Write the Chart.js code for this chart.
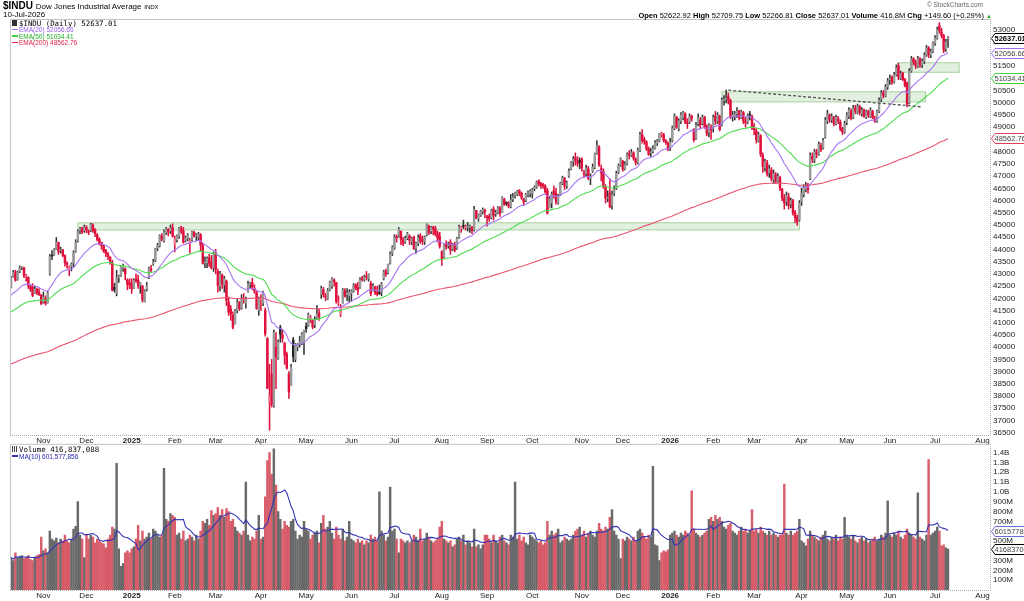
<!DOCTYPE html>
<html><head><meta charset="utf-8">
<script src="https://cdn.jsdelivr.net/npm/chart.js@4.4.1/dist/chart.umd.min.js"></script>
<style>
html,body{margin:0;padding:0;background:#fff;width:1024px;height:601px;overflow:hidden;font-family:"Liberation Sans",Arial,sans-serif;}
canvas{position:absolute;left:0;}
#main{top:0;}
#vol{top:436px;}
.t{position:absolute;white-space:nowrap;color:#000;line-height:1;}
.mono{font-family:"DejaVu Sans Mono",monospace;}
.dash{display:inline-block;width:6px;height:1.5px;vertical-align:middle;margin-right:1px;position:relative;top:-1px;}
</style></head><body>
<canvas id="main" width="1024" height="446"></canvas>
<canvas id="vol" width="1024" height="165"></canvas>

<div class="t" style="left:3px;top:1px;font-size:10px"><b>$INDU</b> <span style="font-size:8px">Dow Jones Industrial Average</span> <span style="font-size:6px">INDX</span></div>
<div class="t" style="left:3px;top:11px;font-size:8px">10-Jul-2026</div>
<div class="t" style="right:41px;top:2px;font-size:6.5px;color:#666">© StockCharts.com</div>
<div class="t" style="right:32px;top:11.5px;font-size:7.5px"><b>Open</b> 52622.92 <b>High</b> 52709.75 <b>Low</b> 52266.81 <b>Close</b> 52637.01 <b>Volume</b> 416.8M <b>Chg</b> +149.60 (+0.29%) <span style="color:#2a2;font-size:6px">▲</span></div>

<div class="t mono" style="left:12px;top:20px;font-size:7.4px"><span style="display:inline-block;width:5px;height:6px;background:#333;margin-right:2px"></span>$INDU (Daily) 52637.01</div>
<div class="t" style="left:12px;top:27px;font-size:6.5px;color:#9a5cf0"><span class="dash" style="background:#a070f0"></span>EMA(20) 52056.66</div>
<div class="t" style="left:12px;top:33.5px;font-size:6.5px;color:#20b020"><span class="dash" style="background:#40d040"></span>EMA(50) 51034.41</div>
<div class="t" style="left:12px;top:40px;font-size:6.5px;color:#e0204a"><span class="dash" style="background:#e0204a"></span>EMA(200) 48562.76</div>

<div class="t mono" style="left:12px;top:446px;font-size:7.4px"><span style="display:inline-block;width:5px;height:6px;background:linear-gradient(90deg,#444 0 1px,transparent 1px 2px,#444 2px 3px,transparent 3px 4px,#444 4px 5px);margin-right:2px"></span>Volume 416,837,088</div>
<div class="t" style="left:12px;top:453.5px;font-size:6.5px;color:#2424b0"><span class="dash" style="background:#3030b0"></span>MA(10) 601,577,856</div>
<div id="err" class="t" style="left:400px;top:300px;color:red;font-size:14px"></div>

<script>
// ---------- calendar ----------
const FIRST_DAY = [2024, 9, 11];
const SLOTS = 455;
const HOLIDAYS = ['2024-11-28','2024-12-25','2025-01-01','2025-01-09','2025-01-20','2025-02-17','2025-04-18','2025-05-26','2025-06-19','2025-07-04','2025-09-01','2025-11-27','2025-12-25','2026-01-01','2026-01-19','2026-02-16','2026-04-03','2026-05-25','2026-06-19','2026-07-03'];
const MONTHS = ['Jan','Feb','Mar','Apr','May','Jun','Jul','Aug','Sep','Oct','Nov','Dec'];
const PREV_CLOSE = 42454;

// ---------- axis ticks ----------
const PRICE_TICK_MIN = 36500, PRICE_TICK_MAX = 53000, PRICE_TICK_STEP = 500;
const VOL_TICKS_M = [100,200,300,400,500,600,700,800,900,1000,1100,1200,1300,1400];

// ---------- price data (daily) ----------
const open = [
42450,42890,43080,42770,43110,43250,43260,42890,42860,42500,42450,42200,42370,42250,42120,
41850,42000,41820,43000,43750,43790,44020,44290,43950,43980,43750,43400,43200,43300,43450,43900,44350,44780,44870,44770,
44900,44750,44780,45000,44800,44600,44420,44280,44150,43950,43800,43690,43450,42450,42200,42840,42930,43240,43200,42750,42650,
42600,42420,42800,42750,42530,42500,41850,42380,42850,43200,43400,43550,44050,44150,44550,44350,44700,44830,44750,44900,
44200,44400,44550,44880,44750,44350,44450,44250,44400,44700,44550,44500,44600,44150,43450,43450,43650,43500,43250,
43850,43100,42500,42950,42550,42700,41850,41550,41300,40950,41500,41850,41600,41950,41800,42250,42580,42650,42400,42250,41500,
41950,41800,41500,40350,37750,38900,37600,40000,39550,40800,40500,40150,39700,38900,38450,40300,39500,40000,40150,40150,40200,
40850,40900,41150,41100,40900,41200,41400,42150,42350,42100,42000,42350,42500,42750,42650,41800,41350,41800,42300,42150,42100,
42200,42300,42550,42450,42450,42800,42750,42900,42800,42600,42300,42450,42250,42250,42250,42800,43100,43050,43450,43850,
44050,44500,44550,44750,44400,44300,44450,44550,44300,44500,44050,44250,44550,44400,44320,44600,44950,44750,44900,44850,44650,44550,
43900,43700,44200,44150,44300,44000,44200,44050,44500,44850,44950,44900,44900,44900,44900,44800,45600,45250,45400,45550,45600,
45300,45350,45300,45650,45450,45500,45700,45500,46050,45900,45900,45750,46050,46200,46250,46400,46300,46050,46000,46250,46300,
46300,46500,46550,46800,46700,46650,46600,46400,45700,45900,46400,46300,45900,46250,46700,46900,46600,47000,47300,47600,47750,47600,47650,
47700,47100,47100,47300,46900,47200,47350,47950,48200,47300,47200,46550,46100,46300,45800,46300,46500,47150,47450,
47600,47300,47500,47900,47850,47950,47700,47550,48050,48700,48500,48400,48100,47950,48000,48150,48350,48450,48700,48700,48450,48350,
48150,48450,48950,49400,48950,49250,49400,49550,49200,49200,49450,48900,48550,49150,49300,49150,49400,49050,48800,49000,
48950,49450,49250,49450,49100,50100,50150,50250,50100,49450,49450,49550,49650,49400,49600,49250,49200,49500,49450,
49000,48850,48450,48650,47850,47350,47550,47150,47250,46850,47050,46800,46950,46450,46100,45950,46150,45850,46000,45500,45300,45200,
45950,46250,46450,46650,46900,47800,47650,48000,47900,48250,48150,48600,49250,49500,49300,49400,49150,49350,49200,48950,48800,
49200,49450,49650,49400,49800,49600,49850,49550,49700,49400,49650,49450,49650,49350,49250,49650,50150,50400,50300,50650,
50950,51050,50850,51150,51500,51000,51200,50950,50800,50000,51300,51800,51650,51500,51800,51550,51700,51950,52250,51950,52100,
52450,52650,53150,52900,52750,52200,52622.92];
const high = [
42900,43140,43150,43120,43325,43300,43270,42980,42880,42520,42600,42500,42420,42400,42160,
42260,42100,42300,43800,43950,44030,44490,44300,44100,44000,43780,43500,43320,43450,43950,44400,44800,44900,44900,45000,
44970,44800,45070,45050,44850,44650,44480,44300,44170,44000,43880,43700,43560,42620,43150,42950,43300,43400,43250,42800,42800,
42800,42800,43000,42950,42650,42530,42350,42650,43280,43350,43600,44050,44250,44600,44650,44800,44900,44850,45000,45050,
44550,44600,44900,44950,44900,44550,44650,44450,44750,44750,44650,44700,44650,44250,43700,43700,43800,43750,43900,
44000,43200,43100,43000,42900,42750,42050,41700,41450,41550,41950,41870,42150,42200,42050,42700,42650,42820,42550,42300,42050,
42150,42300,41600,40400,39300,39500,40700,40600,40300,40900,40700,40200,39800,39000,39300,40400,40150,40150,40450,40600,40700,
41000,41400,41300,41150,41250,41700,41550,42500,42450,42200,42400,42700,42850,42800,42650,42100,41750,42400,42400,42400,42350,
42350,42600,42600,42650,42850,42900,42950,43100,43000,42700,42600,42500,42500,42550,42650,43150,43200,43400,43900,44150,
44600,44600,44900,44750,44500,44550,44700,44600,44500,44550,44300,44600,44650,44550,44550,45050,45000,44950,44950,44950,44750,44700,
43950,44200,44350,44300,44400,44250,44300,44500,45000,44950,45200,45000,45100,45000,44950,45760,45600,45450,45600,45700,45650,
45400,45450,45650,45750,45600,45750,45750,46150,46100,45950,45950,46250,46300,46350,46420,46450,46350,46100,46300,46400,46450,
46500,46600,46800,46850,46750,46700,46650,46500,46150,46350,46600,46500,46250,46750,47000,46950,46800,47300,47600,47800,47950,47800,47750,
47750,47250,47450,47400,47100,47500,47950,48450,48250,47450,47300,46650,46400,46900,46400,46600,47200,47500,47750,
47650,47600,47950,48050,48100,48000,47750,48150,48800,48900,48600,48450,48200,48150,48250,48450,48500,48750,48800,48750,48500,48400,
48550,49050,49550,49450,49350,49600,49650,49600,49350,49550,49500,48950,49200,49550,49400,49500,49450,49100,49150,49100,
49500,49650,49600,49500,50200,50300,50520,50400,50150,49650,49650,49800,49700,49700,49650,49400,49550,49650,49500,
49150,48950,48800,48700,47950,47700,47650,47450,47350,47250,47150,47100,47000,46500,46250,46350,46300,46100,46050,45600,45400,46000,
46500,46650,46750,46700,47950,47950,48100,48100,48400,48350,48550,49400,49700,49550,49550,49450,49500,49450,49300,49000,49250,
49600,49800,49750,49900,49900,49950,49900,49800,49750,49700,49700,49800,49700,49450,49700,50200,50500,50500,50750,51000,
51150,51100,51250,51550,51620,51300,51250,51000,50850,51400,51900,51850,51750,51900,51850,51800,52050,52350,52300,52200,52500,
52750,53100,53280,53050,52800,52600,52709.75];
const low = [
42420,42860,42700,42740,43050,43170,42840,42700,42400,42280,42060,42190,42150,42120,41750,
41800,41720,41800,42950,43580,43750,44000,43800,43850,43700,43320,43220,42930,43120,43280,43880,44300,44650,44640,44700,
44680,44600,44730,44700,44520,44350,44180,44000,43880,43700,43580,43400,42300,42250,42100,42650,42900,43100,42750,42350,42400,
42200,42400,42650,42400,42200,41850,41850,42300,42800,43050,43350,43500,43950,44100,44350,44300,44600,44550,44650,44500,
43900,44300,44450,44650,44250,44300,44350,43850,44350,44500,44350,44400,43950,43400,43250,43250,43300,43200,43100,
43000,42250,42300,42400,42250,41700,41300,41100,40750,40950,41400,41500,41550,41800,41600,42250,42400,42350,42200,41550,41300,
41500,41700,40450,38300,36600,37550,37550,38300,39500,40200,40200,39300,39100,37900,38450,39400,39400,39850,40000,40100,39700,
40600,40850,41000,40750,40800,41150,41100,42000,42050,41900,41950,42300,42400,42500,41800,41700,41250,41800,42050,41900,41850,
41900,42250,42350,42150,42400,42700,42700,42750,42700,42100,42300,42150,42100,42150,42100,42750,42900,43000,43400,43750,
44000,44300,44500,44200,44150,44250,44400,44200,44200,44000,43850,44150,44250,44200,44200,44550,44600,44650,44600,44550,44300,44050,
43350,43650,44000,44050,43800,43950,43900,44000,44450,44700,44850,44800,44750,44700,44650,44750,45250,45150,45350,45450,45300,
44950,45150,45250,45200,45350,45450,45350,45500,45800,45800,45700,45700,45950,46100,46200,46200,46050,45800,45950,46150,46150,
46100,46400,46500,46600,46500,46500,46300,45450,45700,45700,46100,45850,45850,46200,46650,46450,46500,46950,47250,47400,47450,47400,47300,
47200,46950,47000,46850,46650,47150,47300,47900,47400,46800,46500,45900,45950,45700,45650,46200,46450,47100,47400,
47200,47250,47450,47700,47800,47650,47450,47500,48000,48350,48300,48050,47850,47800,47950,48100,48250,48400,48600,48400,48300,48050,
48050,48400,48900,48950,48850,49150,49300,49150,48950,49150,49250,48400,48500,49050,48950,49100,48950,48650,48600,48500,
48800,49100,49150,48850,49050,49900,50000,49950,49350,49250,49300,49400,49300,49350,49150,49000,49150,49300,48900,
48700,48350,48400,47800,47150,47200,47000,46950,46800,46700,46700,46750,46400,46000,45650,45800,45650,45700,45400,45100,44990,45150,
45800,46150,46350,46300,46850,47550,47550,47750,47850,48000,48100,48550,49150,49200,49200,49050,49100,49150,48850,48700,48750,
49100,49350,49300,49350,49550,49550,49500,49450,49400,49350,49400,49400,49350,49200,49200,49600,50050,50200,50250,50550,
50750,50750,50800,51100,50950,50950,50900,50650,49830,49950,51250,51550,51400,51450,51450,51450,51600,51900,51850,51850,52050,
52350,52600,52850,52650,52050,52100,52266.81];
const close = [
42864,43065,42740,43077,43239,43275,42931,42924,42514,42374,42114,42387,42233,42141,41763,
42052,41794,42222,43729,43729,43989,44293,43911,43958,43751,43445,43390,43269,43408,43870,44297,44737,44860,44722,44911,
44782,44705,45014,44766,44643,44402,44248,44149,43914,43828,43717,43450,42327,42342,42840,42906,43297,43325,42992,42573,42544,
42392,42732,42706,42528,42635,41938,42297,42518,43221,43153,43488,44025,44156,44565,44424,44713,44850,44713,44882,44544,
44421,44556,44873,44747,44303,44470,44593,44368,44711,44546,44556,44627,44177,43428,43461,43621,43433,43239,43841,
43191,42520,43006,42579,42801,41912,41433,41350,40813,41488,41841,41581,41964,41953,41985,42583,42587,42455,42300,41583,42002,
41989,42225,40545,38315,37966,37646,40608,39594,40212,40524,40368,39669,39142,38170,39187,39606,40093,40114,40227,40527,40669,
40753,41317,41218,40829,41113,41368,41249,42410,42140,42051,42322,42654,42792,42677,41860,41859,41603,42343,42098,42215,42270,
42305,42519,42427,42319,42763,42762,42867,42866,42968,42197,42515,42215,42172,42207,42582,43089,42982,43386,43819,44095,
44495,44484,44829,44406,44241,44458,44651,44372,44460,44023,44254,44484,44342,44323,44502,45010,44694,44902,44837,44632,44461,44131,
43589,44173,44112,44193,43968,44176,43975,44459,44922,44911,44946,44912,44922,44938,44786,45632,45282,45418,45565,45637,45545,
45296,45271,45621,45401,45515,45711,45490,46108,45834,45883,45758,46018,46142,46315,46382,46292,46121,45947,46247,46316,46398,
46441,46519,46758,46695,46603,46602,46358,45480,46068,46270,46253,45952,46191,46707,46925,46590,46735,47207,47545,47706,47632,47522,47563,
47337,47085,47311,46912,46987,47368,47927,48254,47457,47147,46590,46091,46138,45752,46245,46448,47112,47427,47716,
47289,47474,47882,47851,47955,47739,47560,48057,48704,48458,48416,48114,47886,47951,48134,48362,48442,48731,48710,48461,48367,48063,
48382,48977,49462,48996,49266,49504,49590,49191,49149,49442,49359,48488,49077,49384,49098,49412,49003,48750,49071,48892,
49407,49241,49501,48909,50116,50135,50188,50121,49452,49500,49533,49662,49395,49626,49250,49174,49482,49499,48978,
48900,48500,48700,47900,47400,47600,47100,47300,46900,47100,46800,47000,46500,46100,45900,46200,45800,46000,45500,45300,45150,45900,
46300,46500,46600,46450,47850,47700,48000,47900,48300,48100,48450,49300,49550,49300,49450,49150,49400,49250,48950,48800,49150,
49500,49700,49400,49800,49650,49850,49600,49700,49450,49650,49500,49700,49400,49250,49650,50100,50400,50300,50650,50900,
51000,50850,51150,51450,51050,51200,50950,50700,49950,51300,51800,51650,51500,51800,51550,51700,51950,52250,51950,52100,52450,
52650,53000,52950,52750,52150,52487.41,52637.01];
// volume, millions of shares
const volume = [
330,300,380,330,340,350,320,330,350,310,300,330,350,360,540,
400,420,380,600,520,500,530,480,520,500,560,500,480,520,620,650,900,560,520,330,
560,520,560,540,480,520,500,480,470,430,520,560,640,620,1290,420,240,270,380,400,380,
420,440,520,660,500,600,520,540,580,520,620,600,560,540,560,1240,720,700,780,760,
740,560,580,520,600,500,520,560,540,500,560,520,600,700,680,720,660,810,760,
780,840,760,820,740,830,800,700,720,640,600,580,560,600,1100,560,500,540,520,600,760,
520,540,950,1320,1400,1180,1440,1070,800,720,620,700,660,640,700,720,600,520,560,540,700,
620,600,520,560,580,600,480,680,760,620,640,700,580,520,640,560,520,620,500,540,700,
520,500,480,520,480,500,460,500,480,560,520,540,500,1000,600,560,500,540,1050,600,
620,520,380,520,500,480,500,480,500,560,540,500,620,500,520,580,540,500,480,500,520,640,
700,520,500,480,500,440,460,520,540,500,560,460,500,480,440,620,440,460,420,460,560,
560,520,480,560,500,480,540,560,500,480,460,560,540,1100,520,560,500,540,480,460,560,
540,520,500,480,500,460,480,700,560,600,560,580,620,480,500,540,520,500,520,560,600,620,640,
560,600,540,580,600,560,540,600,680,620,600,640,620,740,820,600,560,520,320,
520,500,540,520,500,540,500,600,620,580,540,520,560,540,1260,460,450,300,380,400,390,410,
560,580,600,560,540,580,560,600,580,560,1010,620,580,560,540,560,580,600,720,740,
700,760,720,740,700,640,620,660,680,600,580,560,600,640,600,620,580,600,820,
600,620,580,640,600,580,560,600,560,580,560,540,560,560,1080,580,560,600,560,580,600,720,
500,480,450,520,600,560,540,520,500,540,560,600,520,500,540,520,560,500,540,520,740,
560,540,520,560,500,480,520,540,500,520,480,500,520,540,500,520,560,540,580,910,
560,540,580,560,600,540,520,560,620,580,560,540,520,990,540,520,500,560,1330,560,580,
600,640,600,450,460,430,416.837088];

// indicator seeds (values of the averages on the day before the first bar)
const EMA_SEED = {20: 42050, 50: 41380, 200: 39280};
// last values shown in tags
const TAG_MAIN = [['52637.01', 52637.01, '#000', true], ['52056.66', 52056.66, '#a070f0', false], ['51034.41', 51034.41, '#40d040', false], ['48562.76', 48562.76, '#e04060', false]];
const TAG_VOL = [['601577856', 601577856, '#6a6ad8', false], ['416837088', 416837088, '#000', false]];

// annotations (bar index, price)
const zoneStart = [31, 330, 411.6];
const zoneEnd = [366, 424.6, 440.2];
const zoneLow = [44800, 50040, 51250];
const zoneHigh = [45090, 50450, 51640];
const trendX = [333, 422.7];
const trendY = [50520, 49836];

// ---------- build ----------
const N = close.length;
if (open.length!==N||high.length!==N||low.length!==N||volume.length!==N) {
  document.getElementById('err').textContent = 'len '+[open.length,high.length,low.length,close.length,volume.length].join(',');
}
const priceTicks = [];
for (let v=PRICE_TICK_MIN; v<=PRICE_TICK_MAX; v+=PRICE_TICK_STEP) priceTicks.push(v);

const dates = [];
{
  const d = new Date(Date.UTC(FIRST_DAY[0], FIRST_DAY[1], FIRST_DAY[2]));
  while (dates.length < SLOTS) {
    const dow = d.getUTCDay(); const s = d.toISOString().slice(0,10);
    if (dow!==0 && dow!==6 && !HOLIDAYS.includes(s)) dates.push(s);
    d.setUTCDate(d.getUTCDate()+1);
  }
}
const monthTicks = [];
for (let i=1;i<SLOTS;i++) {
  if (dates[i].slice(5,7)!==dates[i-1].slice(5,7)) {
    const m = +dates[i].slice(5,7)-1;
    monthTicks.push({value:i, label: m===0 ? dates[i].slice(0,4) : MONTHS[m], bold: m===0});
  }
}
const tickInfo = v => monthTicks.find(t=>t.value===v) || {label:'',bold:false};

const RED='#e0103c', BLK='#222';
const isUp = i => close[i] >= (i ? close[i-1] : PREV_CLOSE);
const wickData=[], bodyData=[], wickCol=[], bodyCol=[];
for (let i=0;i<N;i++){
  const h=Math.max(high[i],open[i],close[i]), l=Math.min(low[i],open[i],close[i]);
  wickData.push({x:i, y:[l,h]});
  bodyData.push({x:i, y:[open[i],close[i]]});
  const up=isUp(i), c= up?BLK:RED;
  wickCol.push(up?'#333':RED);
  const hollow = close[i]>=open[i];
  bodyCol.push(hollow ? (up?'#9a9a9a':'#f07a92') : c);
}
function ema(n){
  const k=2/(n+1); let e=EMA_SEED[n]; const out=[];
  for(let i=0;i<N;i++){ e = e + k*(close[i]-e); out.push({x:i,y:e}); }
  return out;
}
const volData=[], volCol=[], maData=[];
for(let i=0;i<N;i++){
  volData.push({x:i, y:volume[i]*1e6});
  volCol.push(isUp(i)?'#6a6a6a':'rgba(212,72,88,0.88)');
  const s=Math.max(0,i-9); let sum=0; for(let j=s;j<=i;j++) sum+=volume[j];
  maData.push({x:i, y:sum/(i-s+1)*1e6});
}

const FONT='"Liberation Sans", Arial, sans-serif';
function xScale(){
  return {type:'linear', min:-0.5, max:SLOTS-0.5, offset:false,
    grid:{display:false, drawTicks:false}, border:{display:false},
    afterBuildTicks: s => { s.ticks = monthTicks.map(t=>({value:t.value})); },
    afterFit: s => { s.height = 11; },
    ticks:{autoSkip:false, maxRotation:0, minRotation:0, padding:1, color:'#222',
      font: ctx => ({family:FONT, size:8, weight: (ctx.tick && tickInfo(ctx.tick.value).bold) ? 'bold':'normal'}),
      callback: v => tickInfo(v).label}
  };
}
function frame(ctx, a){
  ctx.save();
  ctx.strokeStyle='#c4c4c4'; ctx.lineWidth=1;
  ctx.beginPath(); ctx.moveTo(a.left+0.5,a.bottom); ctx.lineTo(a.left+0.5,a.top+0.5); ctx.lineTo(a.right+0.5,a.top+0.5); ctx.stroke();
  ctx.setLineDash([1,1]); ctx.strokeStyle='#aaa';
  ctx.beginPath(); ctx.moveTo(a.left,a.bottom+0.5); ctx.lineTo(a.right+0.5,a.bottom+0.5); ctx.lineTo(a.right+0.5,a.top); ctx.stroke();
  ctx.restore();
}
function tag(chart, t){
  const ctx=chart.ctx, y=Math.round(chart.scales.y.getPixelForValue(t[1]))+0.5, x=chart.chartArea.right+1.5, W=chart.width;
  ctx.save();
  ctx.font=(t[3]?'bold 7.5px ':'7.5px ')+FONT;
  ctx.beginPath(); ctx.moveTo(x,y); ctx.lineTo(x+3.5,y-5); ctx.lineTo(W+2,y-5); ctx.lineTo(W+2,y+5); ctx.lineTo(x+3.5,y+5); ctx.closePath();
  ctx.fillStyle='#fff'; ctx.fill(); ctx.strokeStyle=t[2]; ctx.lineWidth=1; ctx.stroke();
  ctx.fillStyle=t[3]?'#000':'#444'; ctx.textBaseline='middle'; ctx.textAlign='left';
  ctx.fillText(t[0], x+3, y+0.5);
  ctx.restore();
}
const mainPlugin = {
  id:'mainDeco',
  beforeDatasetsDraw(chart){
    const {ctx, scales:{x,y}} = chart;
    ctx.save();
    for(let k=0;k<zoneStart.length;k++){
      const x0=x.getPixelForValue(zoneStart[k]), x1=x.getPixelForValue(zoneEnd[k]);
      const y0=y.getPixelForValue(zoneHigh[k]), y1=y.getPixelForValue(zoneLow[k]);
      ctx.fillStyle='rgba(190,222,184,0.45)'; ctx.fillRect(x0,y0,x1-x0,y1-y0);
      ctx.strokeStyle='rgba(160,205,150,0.9)'; ctx.lineWidth=1; ctx.strokeRect(x0,y0,x1-x0,y1-y0);
    }
    ctx.restore();
  },
  afterDatasetsDraw(chart){
    const {ctx, scales:{x,y}} = chart;
    ctx.save(); ctx.strokeStyle='#555'; ctx.lineWidth=1.3; ctx.setLineDash([3,2]);
    ctx.beginPath(); ctx.moveTo(x.getPixelForValue(trendX[0]), y.getPixelForValue(trendY[0]));
    ctx.lineTo(x.getPixelForValue(trendX[1]), y.getPixelForValue(trendY[1])); ctx.stroke(); ctx.restore();
  },
  afterDraw(chart){ frame(chart.ctx, chart.chartArea); TAG_MAIN.forEach(t=>tag(chart,t)); }
};
const volPlugin = { id:'volDeco', afterDraw(chart){ frame(chart.ctx, chart.chartArea); TAG_VOL.forEach(t=>tag(chart,t)); } };

const common = {responsive:false, animation:false, events:[], plugins:{legend:{display:false}, tooltip:{enabled:false}}};

new Chart(document.getElementById('main'), {
  type:'bar',
  data:{datasets:[
    {type:'line', data:ema(20), borderColor:'#a775f2', borderWidth:1.1, pointRadius:0, order:0},
    {type:'line', data:ema(50), borderColor:'#4fdc4f', borderWidth:1.1, pointRadius:0, order:1},
    {type:'line', data:ema(200), borderColor:'#e8536f', borderWidth:1.1, pointRadius:0, order:2},
    {data:bodyData, backgroundColor:bodyCol, borderWidth:0, barThickness:1.8, grouped:false, minBarLength:1, order:3},
    {data:wickData, backgroundColor:wickCol, borderWidth:0, barThickness:0.9, grouped:false, order:4}
  ]},
  options:Object.assign({}, common, {
    layout:{padding:{left:10, top:19, right:0, bottom:0}},
    scales:{
      x: xScale(),
      y: {position:'right', min:36406, max:53430, grid:{display:false, drawTicks:false}, border:{display:false},
          afterBuildTicks: s => { s.ticks = priceTicks.map(v=>({value:v})); },
          afterFit: s => { s.width = 34; },
          ticks:{autoSkip:false, padding:3, color:'#222', font:{family:FONT, size:8}, callback: v => String(Math.round(v))}}
    }
  }),
  plugins:[mainPlugin]
});

new Chart(document.getElementById('vol'), {
  type:'bar',
  data:{datasets:[
    {type:'line', data:maData, borderColor:'#3434b4', borderWidth:1.1, pointRadius:0, order:0},
    {data:volData, backgroundColor:volCol, borderWidth:0, barThickness:1.8, grouped:false, order:1}
  ]},
  options:Object.assign({}, common, {
    layout:{padding:{left:10, top:7.5, right:0, bottom:0}},
    scales:{
      x: xScale(),
      y: {position:'right', min:0, max:1.49e9, grid:{display:false, drawTicks:false}, border:{display:false},
          afterBuildTicks: s => { s.ticks = VOL_TICKS_M.map(m=>({value:m*1e6})); },
          afterFit: s => { s.width = 34; },
          ticks:{autoSkip:false, padding:3, color:'#222', font:{family:FONT, size:8},
            callback: v => { const m=Math.round(v/1e6); return m>=1000 ? (m/1000).toFixed(1)+'B' : m+'M'; }}}
    }
  }),
  plugins:[volPlugin]
});
</script>
</body></html>
